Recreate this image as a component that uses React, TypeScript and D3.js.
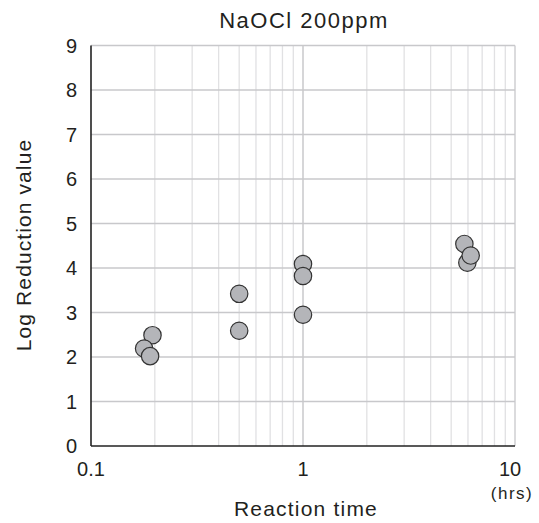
import React from "react";
import * as d3 from "d3";

const timesHrs = [0.195, 0.178, 0.19, 0.5, 0.5, 1.0, 1.0, 1.0, 5.77, 5.96, 6.18];
const logReduction = [2.49, 2.19, 2.02, 3.42, 2.59, 4.09, 3.82, 2.95, 4.54, 4.12, 4.28];
const yTicks = [0, 1, 2, 3, 4, 5, 6, 7, 8, 9];
const xMajorTicks = [0.1, 1, 10];
const xTickLabels = ["0.1", "1", "10"];
const title = "NaOCl 200ppm";
const xLabel = "Reaction time";
const yLabel = "Log Reduction value";
const unitLabel = "(hrs)";

export default function App() {
  const W = 539, H = 523;
  const left = 91, right = 515, top = 45.5, bottom = 446;
  const x = d3.scaleLog().domain([0.1, 10]).range([left, right]);
  const y = d3.scaleLinear().domain([0, 9]).range([bottom, top]);
  const minor: number[] = [];
  for (const dec of [0.1, 1]) for (let k = 2; k <= 9; k++) minor.push(dec * k);
  const font = "'Liberation Sans', Arial, Helvetica, sans-serif";
  const pts = timesHrs.map((t, i) => ({ t, v: logReduction[i] }));
  const tc = "#231f20";
  return (
    <svg width={W} height={H} style={{ position: "absolute", left: 0, top: 0 }} fontFamily={font}>
      <rect width={W} height={H} fill="#fff" />
      {minor.map((m) => (
        <line key={"m" + m} x1={x(m)} x2={x(m)} y1={top} y2={bottom} stroke="#e1e1e3" strokeWidth={1.3} />
      ))}
      {yTicks.filter((t) => t > 0).map((t) => (
        <line key={"h" + t} x1={left} x2={right} y1={y(t)} y2={y(t)} stroke="#c8c8cb" strokeWidth={1.3} />
      ))}
      <line x1={x(1)} x2={x(1)} y1={top} y2={bottom} stroke="#c8c8cb" strokeWidth={1.5} />
      <line x1={right} x2={right} y1={top} y2={bottom} stroke="#c8c8cb" strokeWidth={1.3} />
      <line x1={left} x2={left} y1={top} y2={bottom} stroke="#222" strokeWidth={1.6} />
      <line x1={left} x2={right} y1={bottom} y2={bottom} stroke="#222" strokeWidth={1.6} />
      {yTicks.map((t) => (
        <text key={"yl" + t} x={77} y={y(t) + 7.2} textAnchor="end" fontSize={20} fill={tc}>{t}</text>
      ))}
      {xMajorTicks.map((t, i) => (
        <text key={"xl" + t} x={x(t) - (i === 2 ? 5 : 0)} y={476} textAnchor="middle" fontSize={20} fill={tc}>{xTickLabels[i]}</text>
      ))}
      {pts.map((p, i) => (
        <circle key={i} cx={x(p.t)} cy={y(p.v)} r={8.7} fill="#b4b5b9" stroke="#333" strokeWidth={1.2} />
      ))}
      <text x={304} y={28} textAnchor="middle" fontSize={22} letterSpacing={1.5} fill={tc}>{title}</text>
      <text x={306} y={516} textAnchor="middle" fontSize={21} letterSpacing={1.2} fill={tc}>{xLabel}</text>
      <text x={512} y={499} textAnchor="middle" fontSize={17} letterSpacing={1.5} fill={tc}>{unitLabel}</text>
      <text transform={`translate(31,${245}) rotate(-90)`} textAnchor="middle" fontSize={21} letterSpacing={1.1} fill={tc}>{yLabel}</text>
    </svg>
  );
}
